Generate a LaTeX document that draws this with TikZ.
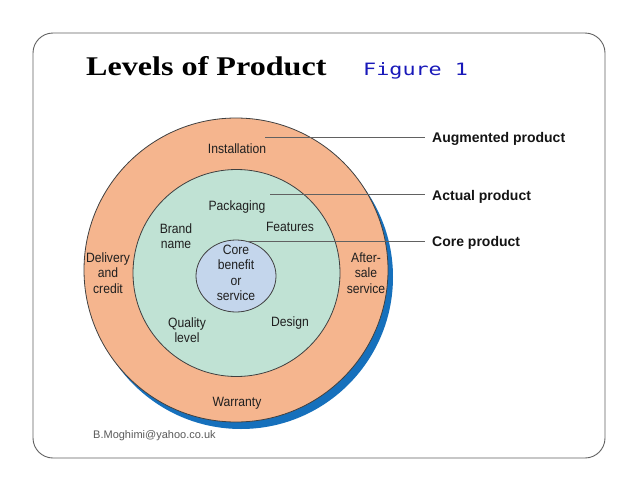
\documentclass[tikz,border=0pt]{standalone}
\usepackage{fontspec}
\usepackage{graphicx}
\setmainfont{Liberation Sans}
\newfontfamily\diagfont[FakeStretch=0.9]{Liberation Sans}
\newfontfamily\titlefont{Liberation Serif}
\newfontfamily\figfont{DejaVu Sans Mono}
\definecolor{peach}{RGB}{245,181,142}
\definecolor{mint}{RGB}{192,226,212}
\definecolor{coreblue}{RGB}{196,214,236}
\definecolor{shadowblue}{RGB}{22,112,188}
\definecolor{figblue}{RGB}{25,25,185}
\begin{document}
\begin{tikzpicture}[x=1pt,y=-1pt,
  frame/.style={draw=black!62,line width=0.9pt,rounded corners=20pt},
  ring/.style={draw=black!75,line width=0.8pt},
  lbl/.style={font=\diagfont\fontsize{13.5}{15.5}\selectfont,align=center,inner sep=0pt,text=black!88},
  leadlbl/.style={font=\bfseries\fontsize{14}{16}\selectfont,inner sep=0pt,inner xsep=7pt,anchor=base west,text=black!92},
  leader/.style={draw=black!62,line width=0.8pt}]
\useasboundingbox (0,0) rectangle (638,493);
\draw[frame] (33,33) rectangle (605,458);
% title
\node[anchor=base west,inner sep=0pt] (title) at (86,75) {\scalebox{1.19}[1]{\titlefont\bfseries\fontsize{27}{30}\selectfont Levels of Product}};
\node[anchor=base west,inner sep=0pt,text=figblue] (fig) at (363,75) {\scalebox{1.28}[1]{\figfont\fontsize{17}{20}\selectfont Figure 1}};
% circles
\fill[shadowblue] (241,277) circle[radius=152pt];
\draw[ring,fill=peach] (236,270) circle[radius=152pt];
\draw[ring,fill=mint] (236.5,273) circle[radius=103.5pt];
\draw[ring,fill=coreblue] (236,276) ellipse[x radius=40pt,y radius=36pt];
% labels
\node[lbl,anchor=base] (inst) at (237,153) {Installation};
\node[lbl,anchor=base] (pack) at (237,210) {Packaging};
\node[lbl] (brand) at (176,236) {Brand\\name};
\node[lbl,anchor=base] (feat) at (290,231.7) {Features};
\node[lbl] (core) at (236,272.7) {Core\\benefit\\or\\service};
\node[lbl] (deliv) at (108,273) {Delivery\\and\\credit};
\node[lbl] (after) at (366,273) {After-\\sale\\service};
\node[lbl] (qual) at (187,330) {Quality\\level};
\node[lbl,anchor=base] (design) at (290,326) {Design};
\node[lbl,anchor=base] (warr) at (237,406) {Warranty};
% leader labels
\node[leadlbl] (aug) at (425,142) {Augmented product};
\node[leadlbl] (act) at (425,200.7) {Actual product};
\node[leadlbl] (corep) at (425,246) {Core product};
\coordinate (pa) at (265,137);
\coordinate (pb) at (270,194.5);
\coordinate (pc) at (247,241);
\draw[leader] (pa) -- (pa -| aug.west);
\draw[leader] (pb) -- (pb -| act.west);
\draw[leader] (pc) -- (pc -| corep.west);
% footer
\node[anchor=base west,inner sep=0pt,text=black!65,font=\fontsize{11}{13}\selectfont] (mail) at (93,438) {B.Moghimi@yahoo.co.uk};
\end{tikzpicture}
\end{document}
